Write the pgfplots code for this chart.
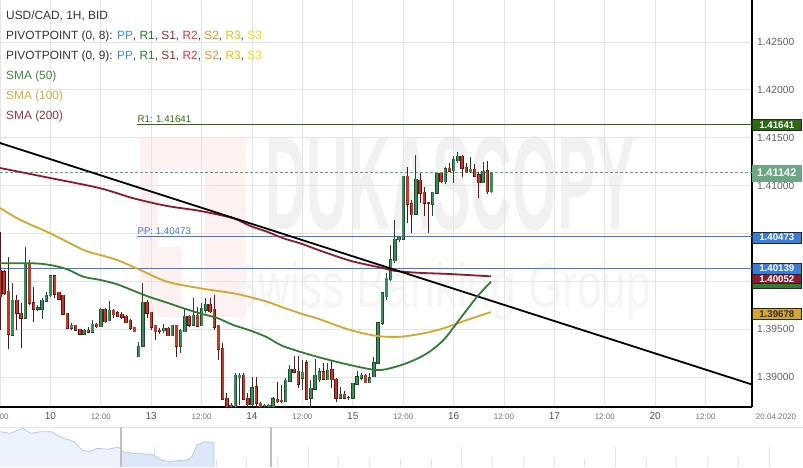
\documentclass[border=0pt]{standalone}
\usepackage{fontspec}
\setmainfont{Liberation Sans}
\usepackage{pgfplots}
\usepackage{pgfplotstable}
\pgfplotsset{compat=1.18}

\definecolor{upfill}{HTML}{3E8A5B}
\definecolor{upedge}{HTML}{1E4A2C}
\definecolor{dnfill}{HTML}{C2392A}
\definecolor{dnedge}{HTML}{5E1414}
\definecolor{sma50c}{HTML}{2E7D32}
\definecolor{sma100c}{HTML}{D6A52B}
\definecolor{sma200c}{HTML}{8E1B2B}
\definecolor{ppblue}{HTML}{3A7BDB}
\definecolor{r1green}{HTML}{2E6A10}
\definecolor{curgreen}{HTML}{5F9F78}
\definecolor{curbox}{HTML}{6EA585}
\definecolor{gridc}{HTML}{E4E4E4}
\definecolor{txt}{HTML}{333333}
\definecolor{daygray}{HTML}{505050}
\definecolor{hourgray}{HTML}{707070}
\definecolor{labgray}{HTML}{606060}
\definecolor{wmgray}{HTML}{F1F1F1}
\definecolor{wmgray2}{HTML}{F5F5F5}
\definecolor{logopink}{HTML}{FDF1F1}
\definecolor{navfillA}{HTML}{EDF3FD}
\definecolor{navfillB}{HTML}{DCE8FA}
\definecolor{navline}{HTML}{B3CBF1}
\definecolor{pivPP}{HTML}{3F8CF0}
\definecolor{pivR1}{HTML}{2A7A2A}
\definecolor{pivS1}{HTML}{A62626}
\definecolor{pivR2}{HTML}{E53030}
\definecolor{pivS2}{HTML}{F08A24}
\definecolor{pivR3}{HTML}{F5B800}
\definecolor{pivS3}{HTML}{EEDD00}
\definecolor{legsma50}{HTML}{3A8A3A}
\definecolor{legsma100}{HTML}{D6A93A}
\definecolor{legsma200}{HTML}{A0303A}

% hourly candles, t = hours after 10.04 00:00
\pgfplotstableread{
t o hi lo c
-9 1.39439 1.39985 1.39432 1.39805
-6 1.39613 1.40355 1.39609 1.40188
-3 1.39707 1.39752 1.39693 1.39724
-2 1.39707 1.39822 1.39603 1.39805
-1 1.39794 1.39891 1.39787 1.39857
0 1.39847 1.40066 1.39833 1.40056
5 1.39509 1.39561 1.39491 1.39540
8 1.39449 1.39505 1.39439 1.39491
10 1.39467 1.39596 1.39463 1.39551
12 1.39526 1.39718 1.39519 1.39711
14 1.39589 1.39794 1.39589 1.39700
21 1.39212 1.39366 1.39209 1.39324
22 1.39324 1.39985 1.39321 1.39784
27 1.39484 1.39551 1.39463 1.39509
29 1.39432 1.39547 1.39429 1.39540
31 1.39324 1.39502 1.39248 1.39491
32 1.39473 1.39718 1.39470 1.39637
34 1.39543 1.39822 1.39540 1.39648
36 1.39536 1.39777 1.39533 1.39718
37 1.39700 1.39822 1.39666 1.39763
44 1.38690 1.39038 1.38655 1.39021
45 1.38990 1.39045 1.38708 1.39021
48 1.38708 1.39003 1.38697 1.38888
51 1.38697 1.38718 1.38655 1.38708
52 1.38690 1.38718 1.38655 1.38708
53 1.38690 1.38795 1.38655 1.38771
56 1.38742 1.38986 1.38742 1.38969
57 1.38958 1.39125 1.38958 1.39083
60 1.38986 1.39178 1.38864 1.39049
62 1.38778 1.38969 1.38690 1.38882
63 1.38872 1.39185 1.38872 1.39018
64 1.38969 1.39091 1.38951 1.39056
66 1.38969 1.39143 1.38969 1.39073
69 1.38778 1.38893 1.38774 1.38820
71 1.38791 1.38802 1.38760 1.38791
72 1.38778 1.38941 1.38778 1.38934
73 1.38924 1.39066 1.38917 1.39003
74 1.38986 1.39045 1.38969 1.39021
76 1.38941 1.39045 1.38934 1.38993
77 1.39003 1.39212 1.39003 1.39150
78 1.39143 1.39578 1.39143 1.39568
79 1.39561 1.39891 1.39543 1.39881
80 1.39839 1.40084 1.39805 1.40032
81 1.40014 1.40379 1.40007 1.40223
82 1.40216 1.40640 1.40195 1.40439
83 1.40432 1.40473 1.40411 1.40460
84 1.40439 1.41100 1.40439 1.41100
87 1.40703 1.41320 1.40703 1.41066
91 1.40804 1.40930 1.40682 1.40930
92 1.40919 1.41135 1.40909 1.41128
94 1.41041 1.41191 1.41013 1.41176
96 1.41156 1.41309 1.41024 1.41275
97 1.41260 1.41351 1.41239 1.41309
100 1.41142 1.41296 1.41128 1.41170
103 1.41030 1.41250 1.41024 1.41152
105 1.40936 1.41142 1.40926 1.41142
}\upc

\pgfplotstableread{
t o hi lo c
-12 1.40118 1.40515 1.39491 1.39836
-11 1.40100 1.40118 1.39857 1.39875
-10 1.39899 1.40251 1.39289 1.39446
-8 1.39805 1.39857 1.39491 1.39666
-7 1.39666 1.39770 1.39306 1.39613
-5 1.40188 1.40223 1.39752 1.39770
-4 1.39777 1.39937 1.39578 1.39707
1 1.40056 1.40063 1.39822 1.39867
2 1.39885 1.39891 1.39805 1.39812
3 1.39854 1.39857 1.39648 1.39655
4 1.39666 1.39669 1.39498 1.39509
6 1.39540 1.39547 1.39484 1.39491
7 1.39498 1.39505 1.39436 1.39449
9 1.39491 1.39519 1.39463 1.39470
11 1.39554 1.39561 1.39512 1.39526
13 1.39711 1.39721 1.39564 1.39578
15 1.39700 1.39711 1.39613 1.39648
16 1.39672 1.39686 1.39624 1.39637
17 1.39658 1.39679 1.39606 1.39624
18 1.39637 1.39648 1.39561 1.39568
19 1.39596 1.39606 1.39491 1.39509
20 1.39519 1.39526 1.39470 1.39473
23 1.39784 1.39805 1.39620 1.39666
24 1.39676 1.39683 1.39491 1.39519
25 1.39540 1.39543 1.39387 1.39473
26 1.39491 1.39509 1.39446 1.39477
28 1.39509 1.39522 1.39425 1.39432
30 1.39540 1.39547 1.39206 1.39324
33 1.39637 1.39648 1.39519 1.39543
35 1.39648 1.39728 1.39529 1.39533
38 1.39763 1.39822 1.39666 1.39683
39 1.39707 1.39857 1.39491 1.39519
40 1.39540 1.39547 1.39178 1.39289
41 1.39300 1.39352 1.38760 1.38767
42 1.38778 1.38830 1.38655 1.38690
43 1.38708 1.38729 1.38634 1.38690
46 1.39021 1.39038 1.38760 1.38767
47 1.38778 1.38830 1.38655 1.38708
49 1.38899 1.39003 1.38655 1.38725
50 1.38725 1.38739 1.38634 1.38690
54 1.38767 1.38951 1.38725 1.38742
55 1.38760 1.38917 1.38725 1.38742
58 1.39083 1.39220 1.39038 1.39049
59 1.39062 1.39220 1.38885 1.38927
61 1.39150 1.39178 1.38760 1.38767
65 1.39056 1.39143 1.38969 1.38976
67 1.39080 1.39178 1.38885 1.38969
68 1.38976 1.38986 1.38742 1.38778
70 1.38820 1.38857 1.38774 1.38778
75 1.39018 1.39031 1.38934 1.38941
85 1.41100 1.41191 1.40606 1.40804
86 1.40815 1.40849 1.40501 1.40693
88 1.41058 1.41135 1.40815 1.40919
89 1.40930 1.40982 1.40682 1.40815
90 1.40828 1.40828 1.40508 1.40815
93 1.41128 1.41128 1.41024 1.41041
95 1.41181 1.41239 1.41145 1.41152
98 1.41309 1.41320 1.41093 1.41181
99 1.41191 1.41239 1.41128 1.41145
101 1.41170 1.41226 1.41087 1.41100
102 1.41111 1.41145 1.40867 1.41030
104 1.41156 1.41260 1.40912 1.40936
}\dnc

\newcommand\Dd[1]{{\fontsize{10}{10}\selectfont\color{daygray}#1}}
\newcommand\Tt{{\fontsize{8}{8}\selectfont\color{hourgray}12:00}}
\newcommand\candlelayer[4]{%
  \addplot[draw=none, mark=none, forget plot,
    error bars/.cd, y dir=plus, y explicit, error mark=none,
    error bar style={draw=#2, line width=#3, solid}]
    table[x=t, #4] {#1};
}
\newcommand\legfont{\fontsize{11.9}{12}\selectfont}

\begin{document}
\begin{tikzpicture}[x=1pt,y=1pt]
\path[use as bounding box] (0,-60) rectangle (803,407);

% watermark
\fill[logopink] (140,90) rectangle (246,269);
\fill[white] (158,160) rectangle (205,237);
\fill[white] (182,90) rectangle (205,160);
\node[text=wmgray, font=\fontsize{133}{133}\selectfont\bfseries, xscale=0.435, inner sep=0pt] at (450,223) {DUKASCOPY};
\node[text=wmgray2, font=\fontsize{63}{63}\selectfont, xscale=0.70, inner sep=0pt, anchor=base] at (440,100) {Swiss Banking Group};

\begin{axis}[
  at={(0pt,0pt)}, anchor=south west, scale only axis,
  width=752pt, height=407pt,
  xmin=-12, xmax=167.05, ymin=1.38687, ymax=1.42939,
  axis x line*=bottom, axis y line*=right,
  axis line style={-, black, line width=1.2pt},
  xtick={-12,0,12,24,36,48,60,72,84,96,108,120,132,144,156},
  xticklabels={{},\Dd{10},\Tt,\Dd{13},\Tt,\Dd{14},\Tt,\Dd{15},\Tt,\Dd{16},\Tt,\Dd{17},\Tt,\Dd{20},\Tt},
  xticklabel style={anchor=center, yshift=-9.5pt},
  ytick={1.39,1.395,1.4,1.405,1.41,1.415,1.42,1.425},
  yticklabels={1.39000,1.39500,{},{},1.41000,1.41500,1.42000,1.42500},
  scaled y ticks=false,
  yticklabel style={font=\fontsize{10.3}{11}\selectfont, text=labgray, xshift=1.5pt},
  major tick length=0pt,
  xmajorgrids, ymajorgrids,
  grid style={draw=gridc, line width=0.8pt},
]
% pivot lines and current price
\addplot[r1green, line width=0.9pt, forget plot] coordinates {(20.7,1.41641) (167.05,1.41641)};
\addplot[ppblue, line width=0.9pt, forget plot] coordinates {(20.7,1.40473) (167.05,1.40473)};
\addplot[ppblue, line width=0.9pt, forget plot] coordinates {(-12,1.40139) (167.05,1.40139)};
\addplot[curgreen, line width=0.7pt, dash pattern=on 3pt off 2pt, forget plot] coordinates {(-12,1.41142) (167.05,1.41142)};
\node[anchor=base west, inner sep=0pt, text=r1green, font=\fontsize{9.7}{10}\selectfont] at (axis cs:20.7,1.41641) [yshift=1.5pt] {R1: 1.41641};
\node[anchor=base west, inner sep=0pt, text=ppblue, font=\fontsize{9.7}{10}\selectfont] at (axis cs:20.7,1.40473) [yshift=1.5pt] {PP: 1.40473};

% candles: wicks, body outline, body fill
\candlelayer{\dnc}{dnedge}{0.9pt}{y=lo, y error expr=\thisrow{hi}-\thisrow{lo}}
\candlelayer{\upc}{upedge}{0.9pt}{y=lo, y error expr=\thisrow{hi}-\thisrow{lo}}
\candlelayer{\dnc}{dnedge}{3.4pt}{y expr=\thisrow{c}-0.00005, y error expr=\thisrow{o}-\thisrow{c}+0.0001}
\candlelayer{\upc}{upedge}{3.4pt}{y expr=\thisrow{o}-0.00005, y error expr=\thisrow{c}-\thisrow{o}+0.0001}
\candlelayer{\dnc}{dnfill}{2.2pt}{y=c, y error expr=\thisrow{o}-\thisrow{c}}
\candlelayer{\upc}{upfill}{2.2pt}{y=o, y error expr=\thisrow{c}-\thisrow{o}}

% SMA lines
\addplot[sma100c, line width=1.8pt, smooth, line join=round] coordinates {
(-12,1.40766)(-7.1,1.40640)(0,1.40501)(7.9,1.40327)(11.9,1.40275)(15.9,1.40223)(21.4,1.40118)(27.8,1.39996)(35.7,1.39927)(43.6,1.39875)(47.6,1.39834)(51.6,1.39787)(55.5,1.39725)(60.7,1.39648)(63.5,1.39613)(71.4,1.39491)(77.8,1.39429)(83.3,1.39421)(88.9,1.39457)(93.6,1.39509)(99.2,1.39596)(104.9,1.39678)};
\addplot[sma200c, line width=1.8pt, smooth, line join=round] coordinates {
(-12,1.41184)(0,1.41079)(11.9,1.40972)(19.8,1.40867)(27.8,1.40787)(35.7,1.40735)(43.6,1.40658)(47.6,1.40578)(51.6,1.40518)(55.5,1.40449)(59.5,1.40397)(63.5,1.40332)(71.4,1.40215)(79.4,1.40136)(81.7,1.40111)(87.3,1.40090)(95.2,1.40076)(104.9,1.40052)};
\addplot[black, line width=1.8pt] coordinates {(-12,1.41445) (167.05,1.38922)};
\addplot[sma50c, line width=1.8pt, smooth, line join=round] coordinates {
(-12,1.40188)(-4.05,1.40188)(0,1.40170)(3.98,1.40126)(7.86,1.40048)(11.9,1.40014)(15.88,1.39969)(19.76,1.39902)(23.8,1.39833)(27.8,1.39777)(31.7,1.39718)(35.7,1.39664)(39.7,1.39617)(43.6,1.39543)(47.6,1.39486)(51.6,1.39415)(55.5,1.39321)(63.5,1.39212)(71.4,1.39125)(77.8,1.39073)(81.7,1.39101)(85.7,1.39160)(89.7,1.39248)(93.6,1.39387)(97.6,1.39613)(101.6,1.39839)(104.9,1.39996)};
\end{axis}

% legend / header text
\node[anchor=base west, inner sep=0pt, text=txt, font=\legfont] at (6,387.7) {USD/CAD, 1H, BID};
\node[anchor=base west, inner sep=0pt, text=txt, font=\legfont] at (6,367.7) {PIVOTPOINT (0, 8): \textcolor{pivPP}{PP}, \textcolor{pivR1}{R1}, \textcolor{pivS1}{S1}, \textcolor{pivR2}{R2}, \textcolor{pivS2}{S2}, \textcolor{pivR3}{R3}, \textcolor{pivS3}{S3}};
\node[anchor=base west, inner sep=0pt, text=txt, font=\legfont] at (6,347.7) {PIVOTPOINT (0, 9): \textcolor{pivPP}{PP}, \textcolor{pivR1}{R1}, \textcolor{pivS1}{S1}, \textcolor{pivR2}{R2}, \textcolor{pivS2}{S2}, \textcolor{pivR3}{R3}, \textcolor{pivS3}{S3}};
\node[anchor=base west, inner sep=0pt, text=legsma50, font=\legfont] at (6,327.7) {SMA (50)};
\node[anchor=base west, inner sep=0pt, text=legsma100, font=\legfont] at (6,307.7) {SMA (100)};
\node[anchor=base west, inner sep=0pt, text=legsma200, font=\legfont] at (6,287.7) {SMA (200)};

% price boxes on the right axis
\tikzset{pbox/.style={anchor=west, minimum width=49pt, minimum height=11pt, inner sep=0pt, draw=black!85, line width=0.6pt, text=white, font=\fontsize{9.7}{10}\selectfont\bfseries}}
\node[pbox, fill=r1green] at (752,282) {1.41641};
\node[pbox, fill=curbox, draw=curbox, minimum height=16pt, font=\fontsize{11}{11}\selectfont\bfseries] at (752,234) {1.41142};
\node[pbox, fill=ppblue] at (752,169.5) {1.40473};
\node[pbox, fill=ppblue] at (752,138.5) {1.40139};
\filldraw[fill=sma50c, draw=black!85, line width=0.6pt] (752,119) rectangle (801,129);
\node[pbox, fill=sma200c, minimum height=9.5pt] at (752,128.25) {1.40052};
\node[pbox, fill=sma100c, text=black!80] at (752,93) {1.39678};

% extra axis texts
\node[anchor=west, inner sep=0pt, font=\fontsize{8}{8}\selectfont, text=hourgray] at (-0.5,-9.5) {00};
\node[inner sep=0pt, font=\fontsize{8}{8}\selectfont, text=hourgray] at (776,-9.5) {20.04.2020};

% navigator
\draw[gridc, line width=0.8pt] (0,-20) -- (803,-20);
\foreach \k in {1,...,25}{
  \pgfmathsetmacro\xx{0.96+30.72*\k}
  \pgfmathtruncatemacro\mm{mod(\k,5)}
  \ifnum\mm=0
    \draw[gridc, line width=0.8pt] (\xx,-40) -- (\xx,-60);
  \else
    \draw[gridc, line width=0.8pt] (\xx,-52) -- (\xx,-60);
  \fi
}
\begin{axis}[at={(0pt,-60pt)}, anchor=south west, scale only axis, width=803pt, height=40pt,
  xmin=0, xmax=803, ymin=0, ymax=40, hide axis]
\addplot[draw=none, fill=navfillA] coordinates {(0,35.3)(10.2,33.7)(23,38.7)(30.7,33.7)(41,35.3)(51.2,35.3)(56.3,32)(64,28.7)(74.2,25.3)(82,17)(89.6,15.3)(97.3,18.7)(107.5,17.7)(117.8,19.7)(121,18)} \closedcycle;
\addplot[draw=none, fill=navfillB] coordinates {(121,18)(122.9,15.3)(133.1,13.7)(145.9,13)(153.6,12)(161.3,7)(169,5.3)(176.6,6.3)(186.9,7)(192,10.3)(197.1,22)(204.8,25.3)(214,24.3)} \closedcycle;
\addplot[navline, line width=0.8pt] coordinates {(0,35.3)(10.2,33.7)(23,38.7)(30.7,33.7)(41,35.3)(51.2,35.3)(56.3,32)(64,28.7)(74.2,25.3)(82,17)(89.6,15.3)(97.3,18.7)(107.5,17.7)(117.8,19.7)(121,18)(122.9,15.3)(133.1,13.7)(145.9,13)(153.6,12)(161.3,7)(169,5.3)(176.6,6.3)(186.9,7)(192,10.3)(197.1,22)(204.8,25.3)(214,24.3)(214,0)};
\end{axis}
\draw[black!25, line width=1.5pt] (121,-20) -- (121,-60);
\draw[black!25, line width=1.5pt] (271,-20) -- (271,-60);
\end{tikzpicture}
\end{document}
